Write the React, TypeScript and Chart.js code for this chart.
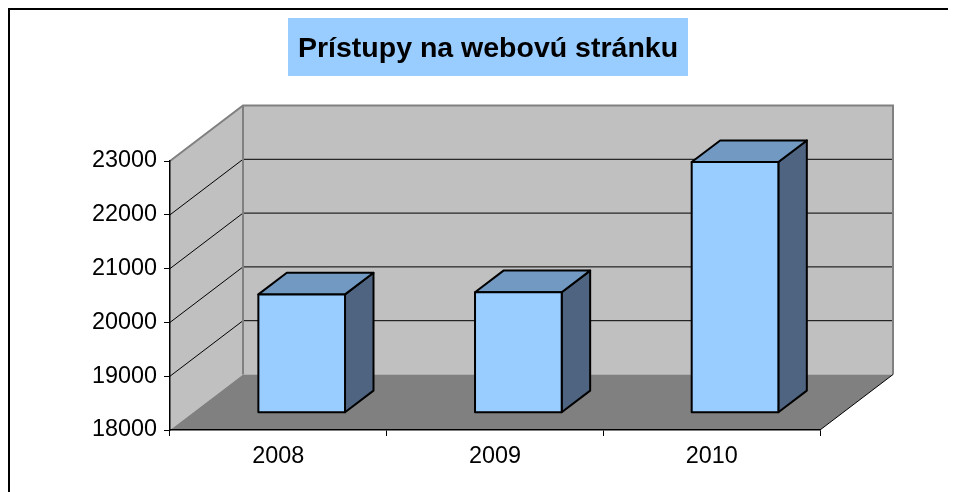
import React, { useEffect, useRef } from "react";
import { Chart, registerables } from "chart.js";

Chart.register(...registerables);

// ---- data ----
const TITLE = "Prístupy na webovú stránku";
const categories = ["2008", "2009", "2010"];
const visits = [20190, 20230, 22650];
const yTickValues = [18000, 19000, 20000, 21000, 22000, 23000];
const Y_MIN = 18000;
const Y_MAX = 23000;
const Y_STEP = 1000;

// ---- style ----
const FONT = "'Liberation Sans', Arial, Helvetica, sans-serif";
const WALL_DX = 73;
const WALL_DY = -55.5;
const BAR_FRONT = 0.32;
const BAR_DEPTH = 0.39;
const CANVAS_W = 940;
const CANVAS_H = 484;

const excel3d = {
  id: "excel3d",
  beforeDraw(chart: any) {
    const ctx = chart.ctx as CanvasRenderingContext2D;
    const { left, right, top, bottom } = chart.chartArea;
    const ys = chart.scales.y;
    ctx.save();

    // title box
    ctx.fillStyle = "#99CCFF";
    ctx.fillRect(280, 10, 400, 58);
    ctx.fillStyle = "#000";
    ctx.font = `bold 28.5px ${FONT}`;
    ctx.textAlign = "center";
    ctx.textBaseline = "alphabetic";
    ctx.fillText(TITLE, 480, 48.7);

    // side wall
    ctx.fillStyle = "#C0C0C0";
    ctx.beginPath();
    ctx.moveTo(left, top);
    ctx.lineTo(left + WALL_DX, top + WALL_DY);
    ctx.lineTo(left + WALL_DX, bottom + WALL_DY);
    ctx.lineTo(left, bottom);
    ctx.closePath();
    ctx.fill();
    // back wall
    ctx.fillRect(left + WALL_DX, top + WALL_DY, right - left, bottom - top);
    // floor
    ctx.fillStyle = "#808080";
    ctx.beginPath();
    ctx.moveTo(left, bottom);
    ctx.lineTo(right, bottom);
    ctx.lineTo(right + WALL_DX, bottom + WALL_DY);
    ctx.lineTo(left + WALL_DX, bottom + WALL_DY);
    ctx.closePath();
    ctx.fill();

    // grid lines
    ctx.strokeStyle = "#000";
    ctx.lineWidth = 1;
    yTickValues.forEach((v) => {
      if (v <= Y_MIN || v >= Y_MAX) return;
      const py = ys.getPixelForValue(v);
      ctx.beginPath();
      ctx.moveTo(left, py);
      ctx.lineTo(left + WALL_DX, py + WALL_DY);
      ctx.lineTo(right + WALL_DX, py + WALL_DY);
      ctx.stroke();
    });

    // wall outlines
    ctx.strokeStyle = "#808080";
    ctx.lineWidth = 2;
    ctx.beginPath();
    ctx.moveTo(left, top);
    ctx.lineTo(left + WALL_DX, top + WALL_DY);
    ctx.lineTo(right + WALL_DX, top + WALL_DY);
    ctx.lineTo(right + WALL_DX, bottom + WALL_DY);
    ctx.moveTo(left + WALL_DX, top + WALL_DY);
    ctx.lineTo(left + WALL_DX, bottom + WALL_DY);
    ctx.stroke();

    // floor right edge
    ctx.strokeStyle = "#000";
    ctx.lineWidth = 1;
    ctx.beginPath();
    ctx.moveTo(right, bottom);
    ctx.lineTo(right + WALL_DX, bottom + WALL_DY);
    ctx.stroke();

    ctx.restore();
  },
  afterDatasetsDraw(chart: any) {
    const ctx = chart.ctx as CanvasRenderingContext2D;
    const meta = chart.getDatasetMeta(0);
    const ys = chart.scales.y;
    const fx = BAR_FRONT * WALL_DX;
    const fy = BAR_FRONT * WALL_DY;
    const bx = BAR_DEPTH * WALL_DX;
    const by = BAR_DEPTH * WALL_DY;
    const basePx = ys.getPixelForValue(Y_MIN);
    ctx.save();
    ctx.lineWidth = 2;
    ctx.lineJoin = "round";
    ctx.strokeStyle = "#000";
    meta.data.forEach((el: any) => {
      const { x, y, width } = el.getProps(["x", "y", "width"], true);
      const l = x - width / 2 + fx;
      const r = x + width / 2 + fx;
      const t = y + fy;
      const b = basePx + fy;
      // side
      ctx.fillStyle = "#4F6480";
      ctx.beginPath();
      ctx.moveTo(r, t);
      ctx.lineTo(r + bx, t + by);
      ctx.lineTo(r + bx, b + by);
      ctx.lineTo(r, b);
      ctx.closePath();
      ctx.fill();
      ctx.stroke();
      // top
      ctx.fillStyle = "#7299C1";
      ctx.beginPath();
      ctx.moveTo(l, t);
      ctx.lineTo(l + bx, t + by);
      ctx.lineTo(r + bx, t + by);
      ctx.lineTo(r, t);
      ctx.closePath();
      ctx.fill();
      ctx.stroke();
      // front
      ctx.fillStyle = "#99CCFF";
      ctx.beginPath();
      ctx.rect(l, t, r - l, b - t);
      ctx.fill();
      ctx.stroke();
    });
    ctx.restore();
  },
  afterDraw(chart: any) {
    const ctx = chart.ctx as CanvasRenderingContext2D;
    ctx.save();
    // clear right strip, then outer frame (left & top only)
    ctx.fillStyle = "#fff";
    ctx.fillRect(chart.width - 12, 2, 12, chart.height);
    ctx.strokeStyle = "#000";
    ctx.lineWidth = 2;
    ctx.beginPath();
    ctx.moveTo(1, chart.height + 5);
    ctx.lineTo(1, 1);
    ctx.lineTo(chart.width + 5, 1);
    ctx.stroke();
    ctx.restore();
  },
};

export default function App() {
  const ref = useRef<HTMLCanvasElement>(null);
  useEffect(() => {
    document.documentElement.style.overflow = "hidden";
    const chart = new Chart(ref.current as HTMLCanvasElement, {
      type: "bar",
      data: {
        labels: categories,
        datasets: [
          {
            label: TITLE,
            data: visits,
            backgroundColor: "rgba(0,0,0,0)",
            borderWidth: 0,
            barPercentage: 0.4,
            categoryPercentage: 1,
          },
        ],
      },
      options: {
        animation: false,
        responsive: false,
        events: [],
        layout: { padding: { top: 153, right: CANVAS_W - 812, left: 0, bottom: 0 } },
        plugins: {
          legend: { display: false },
          title: { display: false },
          tooltip: { enabled: false },
        },
        scales: {
          x: {
            offset: true,
            grid: {
              display: true,
              drawOnChartArea: false,
              drawTicks: true,
              tickLength: 6,
              color: "#000",
              offset: true,
            },
            border: { display: true, color: "#000", width: 1.5 },
            ticks: {
              font: { family: FONT, size: 23.4 },
              color: "#000",
              padding: 7,
              maxRotation: 0,
              autoSkip: false,
            },
            afterFit(s: any) {
              s.height = 62;
            },
          },
          y: {
            min: Y_MIN,
            max: Y_MAX,
            grid: {
              drawOnChartArea: false,
              drawTicks: true,
              tickLength: 6,
              color: "#000",
            },
            border: { display: true, color: "#000", width: 1.5 },
            ticks: {
              stepSize: Y_STEP,
              font: { family: FONT, size: 23.4 },
              color: "#000",
              padding: 7,
              callback: (v: any) => String(v),
            },
            afterFit(s: any) {
              s.width = 162;
            },
          },
        },
      },
      plugins: [excel3d],
    } as any);
    return () => chart.destroy();
  }, []);
  return (
    <div style={{ width: CANVAS_W, height: CANVAS_H, overflow: "hidden" }}>
      <canvas ref={ref} width={CANVAS_W} height={CANVAS_H} style={{ display: "block" }} />
    </div>
  );
}
